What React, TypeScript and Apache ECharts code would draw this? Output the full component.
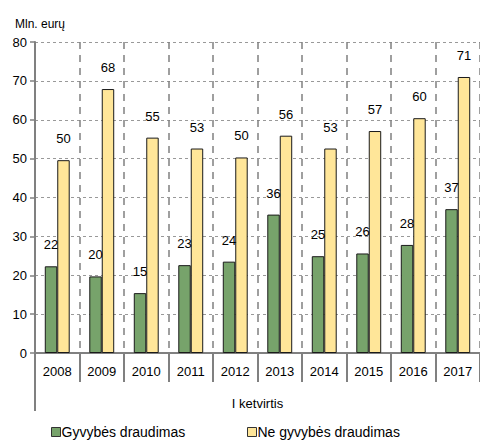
import React, { useEffect, useRef } from "react";
import * as echarts from "echarts";

const categories = ["2008", "2009", "2010", "2011", "2012", "2013", "2014", "2015", "2016", "2017"];
const lifeValues = [22.3, 19.7, 15.4, 22.6, 23.5, 35.6, 24.9, 25.6, 27.8, 37.0];
const nonLifeValues = [49.6, 67.9, 55.4, 52.6, 50.3, 55.9, 52.6, 57.1, 60.4, 71.0];
const seriesNames = ["Gyvybės draudimas", "Ne gyvybės draudimas"];

const FONT = "Liberation Sans";

export default function App() {
  const ref = useRef<HTMLDivElement>(null);
  useEffect(() => {
    if (!ref.current) return;
    const chart = echarts.init(ref.current, null, { renderer: "svg" });
    const label = {
      show: true,
      position: "top",
      distance: 15,
      color: "#000",
      fontFamily: FONT,
      fontSize: 13,
      formatter: (p: any) => String(Math.round(p.value)),
    };
    const legendBase = {
      bottom: -2,
      itemWidth: 9,
      itemHeight: 9,
      icon: "rect",
      itemStyle: { borderColor: "#333", borderWidth: 1 },
      textStyle: { fontFamily: FONT, fontSize: 14, color: "#000", padding: [0, 0, 0, -4] },
    };
    chart.setOption({
      animation: false,
      backgroundColor: "#fff",
      textStyle: { fontFamily: FONT },
      title: {
        text: "Mln. eurų",
        left: 10,
        top: 13,
        textStyle: { fontFamily: FONT, fontSize: 12, fontWeight: "normal", color: "#000" },
      },
      grid: { left: 35, top: 42, bottom: 89, width: 448 },
      legend: [
        { ...legendBase, left: 46, data: [seriesNames[0]] },
        { ...legendBase, left: 242, data: [seriesNames[1]] },
      ],
      xAxis: {
        type: "category",
        data: categories,
        name: "I ketvirtis",
        nameLocation: "middle",
        nameGap: 44,
        nameTextStyle: { fontFamily: FONT, fontSize: 13, color: "#000" },
        axisLine: { lineStyle: { color: "#808080", width: 2 } },
        axisTick: { show: true, length: 29, lineStyle: { color: "#808080", width: 2 } },
        axisLabel: { color: "#000", fontFamily: FONT, fontSize: 13, margin: 12 },
        splitLine: { show: true, lineStyle: { color: "#808080", type: [7, 6], width: 1.5 } },
      },
      yAxis: {
        type: "value",
        min: 0,
        max: 80,
        interval: 10,
        axisLine: { show: true, lineStyle: { color: "#808080", width: 2 } },
        axisTick: { show: true, length: 5, lineStyle: { color: "#808080", width: 1.5 } },
        axisLabel: { color: "#000", fontFamily: FONT, fontSize: 13, margin: 8 },
        splitLine: { show: true, lineStyle: { color: "#999", type: [3, 3], width: 1 } },
      },
      graphic: [
        {
          type: "line",
          shape: { x1: 35, y1: 353, x2: 35, y2: 411 },
          style: { stroke: "#808080", lineWidth: 2 },
        },
      ],
      series: [
        {
          name: seriesNames[0],
          type: "bar",
          data: lifeValues,
          barGap: "0%",
          barCategoryGap: "44%",
          itemStyle: { color: "#77a36b", borderColor: "#1a1a1a", borderWidth: 1 },
          label,
        },
        {
          name: seriesNames[1],
          type: "bar",
          data: nonLifeValues,
          itemStyle: { color: "#ffe699", borderColor: "#1a1a1a", borderWidth: 1 },
          label,
        },
      ],
    });
    return () => chart.dispose();
  }, []);
  return <div ref={ref} style={{ width: 480, height: 442, position: "absolute", left: 0, top: 0 }} />;
}
